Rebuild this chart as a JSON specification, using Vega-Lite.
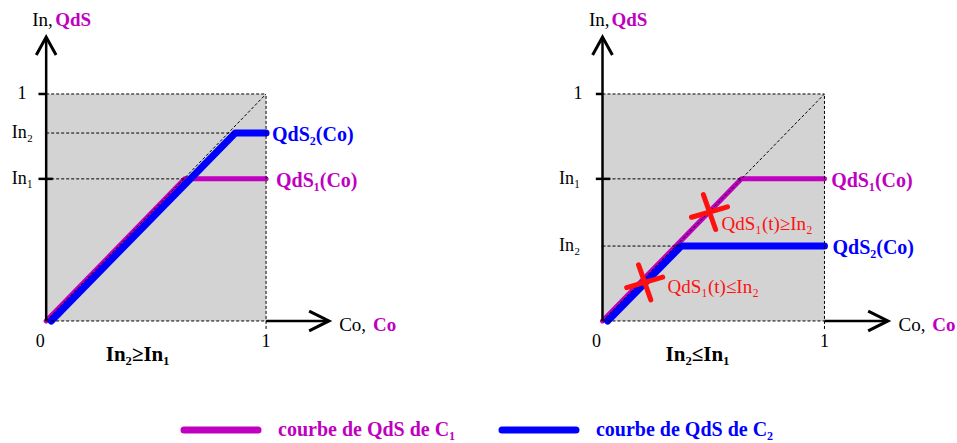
{
  "$schema": "https://vega.github.io/schema/vega-lite/v6.json",
  "padding": 0,
  "background": "white",
  "spacing": 50,
  "config": {"view": {"stroke": null}},
  "datasets": {
    "box": [{"x": 0, "x2": 1, "y": 0, "y2": 1}],
    "curves": [
      {"p": 1, "s": "C1", "x": 0, "y": 0}, {"p": 1, "s": "C1", "x": 0.63, "y": 0.626}, {"p": 1, "s": "C1", "x": 1, "y": 0.626},
      {"p": 1, "s": "C2", "x": 0.023, "y": 0}, {"p": 1, "s": "C2", "x": 0.86, "y": 0.828}, {"p": 1, "s": "C2", "x": 1, "y": 0.828},
      {"p": 2, "s": "C1", "x": 0, "y": 0}, {"p": 2, "s": "C1", "x": 0.626, "y": 0.626}, {"p": 2, "s": "C1", "x": 1, "y": 0.626},
      {"p": 2, "s": "C2", "x": 0.023, "y": 0}, {"p": 2, "s": "C2", "x": 0.355, "y": 0.33}, {"p": 2, "s": "C2", "x": 1, "y": 0.33}
    ],
    "dashed": [
      {"p": 1, "x": 0, "y": 1, "x2": 1, "y2": 1},
      {"p": 1, "x": 1, "y": -0.035, "x2": 1, "y2": 1},
      {"p": 1, "x": 0, "y": 0, "x2": 1, "y2": 0},
      {"p": 1, "x": 0, "y": 0, "x2": 1, "y2": 1},
      {"p": 1, "x": 0, "y": 0.828, "x2": 0.85, "y2": 0.828},
      {"p": 1, "x": 0, "y": 0.626, "x2": 0.63, "y2": 0.626},
      {"p": 2, "x": 0, "y": 1, "x2": 1, "y2": 1},
      {"p": 2, "x": 1, "y": -0.035, "x2": 1, "y2": 1},
      {"p": 2, "x": 0, "y": 0, "x2": 1, "y2": 0},
      {"p": 2, "x": 0, "y": 0, "x2": 1, "y2": 1},
      {"p": 2, "x": 0, "y": 0.626, "x2": 0.626, "y2": 0.626},
      {"p": 2, "x": 0, "y": 0.33, "x2": 0.355, "y2": 0.33}
    ],
    "solid": [
      {"p": 1, "x": 0, "y": 0, "x2": 0, "y2": 1.24},
      {"p": 1, "x": 1, "y": 0, "x2": 1.28, "y2": 0},
      {"p": 1, "x": -0.035, "y": 1, "x2": 0, "y2": 1},
      {"p": 1, "x": -0.035, "y": 0.626, "x2": 0.03, "y2": 0.626},
      {"p": 2, "x": 0, "y": 0, "x2": 0, "y2": 1.24},
      {"p": 2, "x": 1, "y": 0, "x2": 1.28, "y2": 0},
      {"p": 2, "x": -0.03, "y": 1, "x2": 0, "y2": 1},
      {"p": 2, "x": -0.03, "y": 0.626, "x2": 0.035, "y2": 0.626}
    ],
    "arrows": [
      {"p": 1, "dir": "up", "x": 0, "y": 1.251},
      {"p": 1, "dir": "right", "x": 1.286, "y": 0},
      {"p": 2, "dir": "up", "x": 0, "y": 1.251},
      {"p": 2, "dir": "right", "x": 1.286, "y": 0}
    ],
    "crosses": [
      {"p": 2, "x": 0.482, "y": 0.48},
      {"p": 2, "x": 0.19, "y": 0.17}
    ],
    "texts": [
      {"p": 1, "k": "ylab", "t": "1", "x": -0.09, "y": 1},
      {"p": 1, "k": "ylab", "t": "In₂", "x": -0.06, "y": 0.828},
      {"p": 1, "k": "ylab", "t": "In₁", "x": -0.06, "y": 0.626},
      {"p": 1, "k": "xlab", "t": "0", "x": -0.027, "y": -0.093},
      {"p": 1, "k": "xlab", "t": "1", "x": 1, "y": -0.093},
      {"p": 1, "k": "axk", "t": "In,", "x": 0.03, "y": 1.326},
      {"p": 1, "k": "axk", "t": "Co,", "x": 1.455, "y": -0.018},
      {"p": 1, "k": "axm", "t": "QdS", "x": 0.041, "y": 1.326},
      {"p": 1, "k": "axm", "t": "Co", "x": 1.486, "y": -0.018},
      {"p": 1, "k": "cond", "t": "In₂≥In₁", "x": 0.416, "y": -0.15},
      {"p": 1, "k": "curve", "s": "C2", "t": "QdS₂(Co)", "x": 1.027, "y": 0.828},
      {"p": 1, "k": "curve", "s": "C1", "t": "QdS₁(Co)", "x": 1.045, "y": 0.626},
      {"p": 2, "k": "ylab", "t": "1", "x": -0.09, "y": 1},
      {"p": 2, "k": "ylab", "t": "In₁", "x": -0.1, "y": 0.626},
      {"p": 2, "k": "ylab", "t": "In₂", "x": -0.1, "y": 0.33},
      {"p": 2, "k": "xlab", "t": "0", "x": -0.027, "y": -0.093},
      {"p": 2, "k": "xlab", "t": "1", "x": 1, "y": -0.093},
      {"p": 2, "k": "axk", "t": "In,", "x": 0.032, "y": 1.326},
      {"p": 2, "k": "axk", "t": "Co,", "x": 1.455, "y": -0.018},
      {"p": 2, "k": "axm", "t": "QdS", "x": 0.04, "y": 1.326},
      {"p": 2, "k": "axm", "t": "Co", "x": 1.486, "y": -0.018},
      {"p": 2, "k": "cond", "t": "In₂≤In₁", "x": 0.428, "y": -0.15},
      {"p": 2, "k": "curve", "s": "C1", "t": "QdS₁(Co)", "x": 1.03, "y": 0.626},
      {"p": 2, "k": "curve", "s": "C2", "t": "QdS₂(Co)", "x": 1.036, "y": 0.33},
      {"p": 2, "k": "note", "t": "QdS₁(t)≥In₂", "x": 0.536, "y": 0.436},
      {"p": 2, "k": "note", "t": "QdS₁(t)≤In₂", "x": 0.293, "y": 0.159}
    ],
    "legend": [
      {"s": "C1", "t": "courbe de QdS de C₁"},
      {"s": "C2", "t": "courbe de QdS de C₂"}
    ]
  },
  "vconcat": [
    {
      "hconcat": [
        {
          "width": 376, "height": 365,
          "encoding": {
            "x": {"field": "x", "type": "quantitative", "scale": {"domain": [-0.21, 1.5], "nice": false, "zero": false}, "axis": null},
            "y": {"field": "y", "type": "quantitative", "scale": {"domain": [-0.194, 1.414], "nice": false, "zero": false}, "axis": null}
          },
          "layer": [
            {"data": {"name": "box"}, "mark": {"type": "rect", "fill": "#d3d3d3"}, "encoding": {"x2": {"field": "x2"}, "y2": {"field": "y2"}}},
            {"data": {"name": "curves"}, "transform": [{"filter": "datum.p == 1 && datum.s == 'C1'"}], "mark": {"type": "line", "color": "#c000c0", "strokeWidth": 5, "strokeCap": "round", "strokeJoin": "round"}, "encoding": {}},
            {"data": {"name": "curves"}, "transform": [{"filter": "datum.p == 1 && datum.s == 'C2'"}], "mark": {"type": "line", "color": "#0000ff", "strokeWidth": 7, "strokeCap": "round", "strokeJoin": "round"}, "encoding": {}},
            {"data": {"name": "dashed"}, "transform": [{"filter": "datum.p == 1"}], "mark": {"type": "rule", "color": "black", "strokeWidth": 1, "strokeDash": [3, 2]}, "encoding": {"x2": {"field": "x2"}, "y2": {"field": "y2"}}},
            {"data": {"name": "solid"}, "transform": [{"filter": "datum.p == 1"}], "mark": {"type": "rule", "color": "black", "strokeWidth": 2.5}, "encoding": {"x2": {"field": "x2"}, "y2": {"field": "y2"}}},
            {"data": {"name": "arrows"}, "transform": [{"filter": "datum.p == 1"}], "mark": {"type": "point", "filled": false, "stroke": "black", "strokeWidth": 3, "size": 1296, "opacity": 1},
             "encoding": {"shape": {"field": "dir", "type": "nominal", "scale": {"domain": ["up", "right"], "range": ["M-0.55,1L0,0L0.55,1", "M-1.1,-0.55L0,0L-1.1,0.55"]}, "legend": null}}},
            {"data": {"name": "texts"}, "transform": [{"filter": "datum.p == 1 && datum.k == 'ylab'"}], "mark": {"type": "text", "align": "right", "baseline": "middle", "font": "Liberation Serif", "fontSize": 18, "color": "black"}, "encoding": {"text": {"field": "t"}}},
            {"data": {"name": "texts"}, "transform": [{"filter": "datum.p == 1 && datum.k == 'xlab'"}], "mark": {"type": "text", "align": "center", "baseline": "middle", "font": "Liberation Serif", "fontSize": 18, "color": "black"}, "encoding": {"text": {"field": "t"}}},
            {"data": {"name": "texts"}, "transform": [{"filter": "datum.p == 1 && datum.k == 'axk'"}], "mark": {"type": "text", "align": "right", "baseline": "middle", "font": "Liberation Serif", "fontSize": 19, "color": "black"}, "encoding": {"text": {"field": "t"}}},
            {"data": {"name": "texts"}, "transform": [{"filter": "datum.p == 1 && datum.k == 'axm'"}], "mark": {"type": "text", "align": "left", "baseline": "middle", "font": "Liberation Serif", "fontSize": 19, "fontWeight": "bold", "color": "#c000c0"}, "encoding": {"text": {"field": "t"}}},
            {"data": {"name": "texts"}, "transform": [{"filter": "datum.p == 1 && datum.k == 'cond'"}], "mark": {"type": "text", "align": "center", "baseline": "middle", "font": "Liberation Serif", "fontSize": 21, "fontWeight": "bold", "color": "black"}, "encoding": {"text": {"field": "t"}}},
            {"data": {"name": "texts"}, "transform": [{"filter": "datum.p == 1 && datum.k == 'curve'"}], "mark": {"type": "text", "align": "left", "baseline": "middle", "dy": 2, "font": "Liberation Serif", "fontSize": 20, "fontWeight": "bold"},
             "encoding": {"text": {"field": "t"}, "color": {"field": "s", "type": "nominal", "scale": {"domain": ["C1", "C2"], "range": ["#c000c0", "#0000ff"]}, "legend": null}}}
          ]
        },
        {
          "width": 400, "height": 365,
          "encoding": {
            "x": {"field": "x", "type": "quantitative", "scale": {"domain": [-0.205, 1.597], "nice": false, "zero": false}, "axis": null},
            "y": {"field": "y", "type": "quantitative", "scale": {"domain": [-0.194, 1.414], "nice": false, "zero": false}, "axis": null}
          },
          "layer": [
            {"data": {"name": "box"}, "mark": {"type": "rect", "fill": "#d3d3d3"}, "encoding": {"x2": {"field": "x2"}, "y2": {"field": "y2"}}},
            {"data": {"name": "curves"}, "transform": [{"filter": "datum.p == 2 && datum.s == 'C1'"}], "mark": {"type": "line", "color": "#c000c0", "strokeWidth": 5, "strokeCap": "round", "strokeJoin": "round"}, "encoding": {}},
            {"data": {"name": "curves"}, "transform": [{"filter": "datum.p == 2 && datum.s == 'C2'"}], "mark": {"type": "line", "color": "#0000ff", "strokeWidth": 7, "strokeCap": "round", "strokeJoin": "round"}, "encoding": {}},
            {"data": {"name": "dashed"}, "transform": [{"filter": "datum.p == 2"}], "mark": {"type": "rule", "color": "black", "strokeWidth": 1, "strokeDash": [3, 2]}, "encoding": {"x2": {"field": "x2"}, "y2": {"field": "y2"}}},
            {"data": {"name": "solid"}, "transform": [{"filter": "datum.p == 2"}], "mark": {"type": "rule", "color": "black", "strokeWidth": 2.5}, "encoding": {"x2": {"field": "x2"}, "y2": {"field": "y2"}}},
            {"data": {"name": "arrows"}, "transform": [{"filter": "datum.p == 2"}], "mark": {"type": "point", "filled": false, "stroke": "black", "strokeWidth": 3, "size": 1296, "opacity": 1},
             "encoding": {"shape": {"field": "dir", "type": "nominal", "scale": {"domain": ["up", "right"], "range": ["M-0.55,1L0,0L0.55,1", "M-1.1,-0.55L0,0L-1.1,0.55"]}, "legend": null}}},
            {"data": {"name": "crosses"}, "transform": [{"filter": "datum.p == 2"}], "mark": {"type": "point", "shape": "M-1,0.29L1,-0.29M-0.34,-0.97L0.34,0.97", "filled": false, "stroke": "#ff1010", "strokeWidth": 5, "strokeCap": "round", "size": 1296, "opacity": 1}, "encoding": {}},
            {"data": {"name": "texts"}, "transform": [{"filter": "datum.p == 2 && datum.k == 'ylab'"}], "mark": {"type": "text", "align": "right", "baseline": "middle", "font": "Liberation Serif", "fontSize": 18, "color": "black"}, "encoding": {"text": {"field": "t"}}},
            {"data": {"name": "texts"}, "transform": [{"filter": "datum.p == 2 && datum.k == 'xlab'"}], "mark": {"type": "text", "align": "center", "baseline": "middle", "font": "Liberation Serif", "fontSize": 18, "color": "black"}, "encoding": {"text": {"field": "t"}}},
            {"data": {"name": "texts"}, "transform": [{"filter": "datum.p == 2 && datum.k == 'axk'"}], "mark": {"type": "text", "align": "right", "baseline": "middle", "font": "Liberation Serif", "fontSize": 19, "color": "black"}, "encoding": {"text": {"field": "t"}}},
            {"data": {"name": "texts"}, "transform": [{"filter": "datum.p == 2 && datum.k == 'axm'"}], "mark": {"type": "text", "align": "left", "baseline": "middle", "font": "Liberation Serif", "fontSize": 19, "fontWeight": "bold", "color": "#c000c0"}, "encoding": {"text": {"field": "t"}}},
            {"data": {"name": "texts"}, "transform": [{"filter": "datum.p == 2 && datum.k == 'cond'"}], "mark": {"type": "text", "align": "center", "baseline": "middle", "font": "Liberation Serif", "fontSize": 21, "fontWeight": "bold", "color": "black"}, "encoding": {"text": {"field": "t"}}},
            {"data": {"name": "texts"}, "transform": [{"filter": "datum.p == 2 && datum.k == 'note'"}], "mark": {"type": "text", "align": "left", "baseline": "middle", "dy": 2, "font": "Liberation Serif", "fontSize": 19, "color": "#ff1010"}, "encoding": {"text": {"field": "t"}}},
            {"data": {"name": "texts"}, "transform": [{"filter": "datum.p == 2 && datum.k == 'curve'"}], "mark": {"type": "text", "align": "left", "baseline": "middle", "dy": 2, "font": "Liberation Serif", "fontSize": 20, "fontWeight": "bold"},
             "encoding": {"text": {"field": "t"}, "color": {"field": "s", "type": "nominal", "scale": {"domain": ["C1", "C2"], "range": ["#c000c0", "#0000ff"]}, "legend": null}}}
          ]
        }
      ],
      "spacing": 181,
      "bounds": "flush"
    },
    {
      "width": 760, "height": 28,
      "data": {"name": "legend"},
      "encoding": {
        "x": {"field": "s", "type": "nominal", "scale": {"type": "point", "padding": 0.695}, "axis": null},
        "color": {"field": "s", "type": "nominal", "scale": {"domain": ["C1", "C2"], "range": ["#c000c0", "#0000ff"]}, "legend": null}
      },
      "layer": [
        {"mark": {"type": "point", "shape": "M-1,0L1,0", "size": 5476, "filled": false, "strokeWidth": 7, "strokeCap": "round", "opacity": 1}},
        {"mark": {"type": "text", "align": "left", "baseline": "middle", "dx": 57, "font": "Liberation Serif", "fontWeight": "bold", "fontSize": 20}, "encoding": {"text": {"field": "t"}}}
      ]
    }
  ]
}
